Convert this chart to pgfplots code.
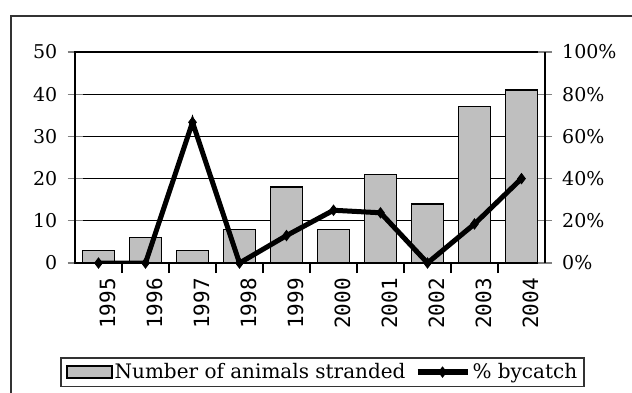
\documentclass[border=0pt]{standalone}
\usepackage{fontspec}
\setmainfont{DejaVu Serif}
\newfontfamily\xlab{DejaVu Sans Mono}
\usepackage{pgfplots}
\pgfplotsset{compat=1.18}
\begin{document}
\begin{tikzpicture}[x=1pt,y=1pt]
\useasboundingbox (0,0) rectangle (632,392);
\draw[line width=1.8pt, black!80] (11,-5) -- (11,376) -- (640,376);
\begin{axis}[
  at={(75pt,129pt)}, anchor=south west,
  width=470pt, height=211pt, scale only axis,
  xmin=-0.5, xmax=9.5, ymin=0, ymax=50,
  ytick={0,10,...,50},
  ytick pos=left, xtick pos=bottom,
  xtick={0,...,9},
  xticklabels={1995,1996,1997,1998,1999,2000,2001,2002,2003,2004},
  minor xtick={0.5,1.5,...,8.5},
  major x tick style={draw=none},
  minor x tick style={draw=black, line width=1.2pt},
  major y tick style={line width=1.2pt},
  tick align=center,
  major tick length=15pt, minor tick length=10pt,
  ymajorgrids, grid style={black, line width=1pt},
  axis line style={black, line width=1.5pt},
  /pgf/number format/assume math mode=true,
  xticklabel style={rotate=90, anchor=east, font=\xlab\fontsize{21}{24}\selectfont, inner sep=0pt, yshift=-9pt},
  yticklabel style={font=\fontsize{19}{22}\selectfont, inner sep=0pt, xshift=-10pt},
  ybar, bar width=32.6pt,
]
\addplot[fill=black!25, draw=black, line width=1.2pt] coordinates {
(0,3) (1,6) (2,3) (3,8) (4,18) (5,8) (6,21) (7,14) (8,37) (9,41)};
\end{axis}
\begin{axis}[
  at={(75pt,129pt)}, anchor=south west,
  width=470pt, height=211pt, scale only axis,
  xmin=-0.5, xmax=9.5, ymin=0, ymax=100,
  axis x line=none, axis y line*=right,
  ytick={0,20,...,100},
  /pgf/number format/assume math mode=true,
  yticklabel={\pgfmathprintnumber{\tick}\%},
  tick align=center, major tick length=14pt,
  major y tick style={line width=1.2pt},
  axis line style={black, line width=1.5pt},
  yticklabel style={font=\fontsize{19}{22}\selectfont, inner sep=0pt, xshift=10pt},
  legend style={at={(0.527,-0.517)}, anchor=center, draw=black!80, line width=1.8pt,
    font=\fontsize{20}{23}\selectfont, legend columns=2,
    inner xsep=5pt, inner ysep=4pt,
    nodes={inner sep=2pt},
    /tikz/every even column/.append style={column sep=7pt}},
  legend cell align=left,
]
\addlegendimage{legend image code/.code={\draw[fill=black!25, draw=black, line width=1.5pt] (0pt,-6pt) rectangle (45pt,6pt);}}
\addlegendentry{Number of animals stranded}
\addplot[black, line width=5pt, mark=diamond*, mark size=5pt, mark options={line width=1pt},
  legend image code/.code={\draw[black, line width=6pt, mark=diamond*, mark size=5pt, mark options={line width=1pt}, mark repeat=2, mark phase=2] plot coordinates {(0pt,0pt) (25pt,0pt) (50pt,0pt)};}]
coordinates {
(0,0) (1,0) (2,66.7) (3,0) (4,13) (5,25) (6,23.8) (7,0) (8,18.5) (9,40)};
\addlegendentry{\% bycatch}
\end{axis}
\end{tikzpicture}
\end{document}
